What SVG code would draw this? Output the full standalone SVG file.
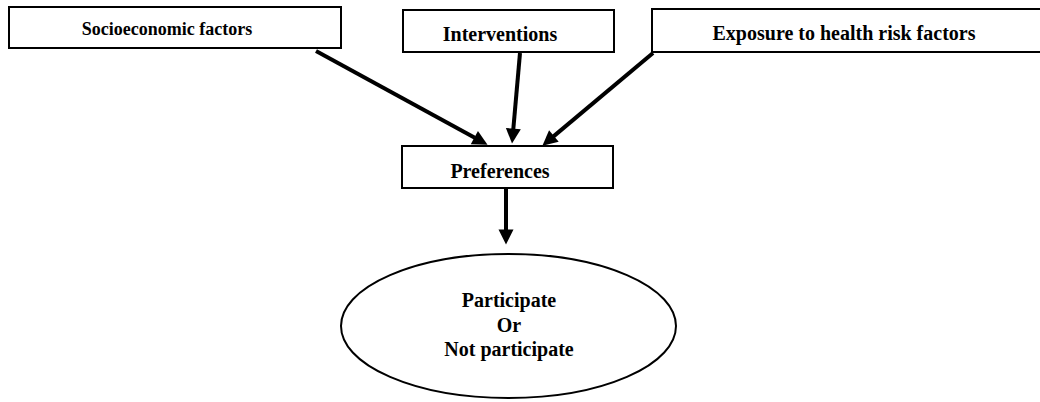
<svg xmlns="http://www.w3.org/2000/svg" width="1040" height="402" viewBox="0 0 1040 402">
<style>
.box{fill:#fff;stroke:#000;stroke-width:2}
.t{font-family:"Liberation Serif","Times New Roman",serif;font-weight:bold;font-size:20px;fill:#000;text-anchor:middle}
.edge{stroke:#000;stroke-width:4;fill:none;marker-end:url(#ah)}
</style>
<defs>
<marker id="ah" markerUnits="userSpaceOnUse" markerWidth="16" markerHeight="16" viewBox="0 0 16 16" refX="0.5" refY="8" orient="auto" overflow="visible">
<path d="M0,0.5 L15,8 L0,15.5 Z" fill="#000"/>
</marker>
</defs>
<rect width="1040" height="402" fill="#fff"/>
<g id="connectors">
<line class="edge" x1="316" y1="51" x2="474.8" y2="137.8"/>
<line class="edge" x1="520" y1="53" x2="513.3" y2="129.1"/>
<line class="edge" x1="653" y1="53" x2="553.5" y2="136.4"/>
<line class="edge" x1="506" y1="189" x2="506" y2="230"/>
</g>
<g id="socioeconomic">
<rect class="box" x="9" y="7" width="332" height="41"/>
<text class="t" x="167" y="35" style="font-size:18px">Socioeconomic factors</text>
</g>
<g id="interventions">
<rect class="box" x="403" y="10" width="211" height="42"/>
<text class="t" x="500" y="41">Interventions</text>
</g>
<g id="exposure">
<rect class="box" x="652" y="9" width="392" height="43"/>
<text class="t" x="844" y="40">Exposure to health risk factors</text>
</g>
<g id="preferences">
<rect class="box" x="402" y="146" width="211" height="42"/>
<text class="t" x="500" y="178">Preferences</text>
</g>
<g id="participate">
<ellipse class="box" cx="508.5" cy="326" rx="167.5" ry="72"/>
<text class="t" x="509" y="307">Participate</text>
<text class="t" x="509" y="332">Or</text>
<text class="t" x="509" y="356">Not participate</text>
</g>
</svg>
